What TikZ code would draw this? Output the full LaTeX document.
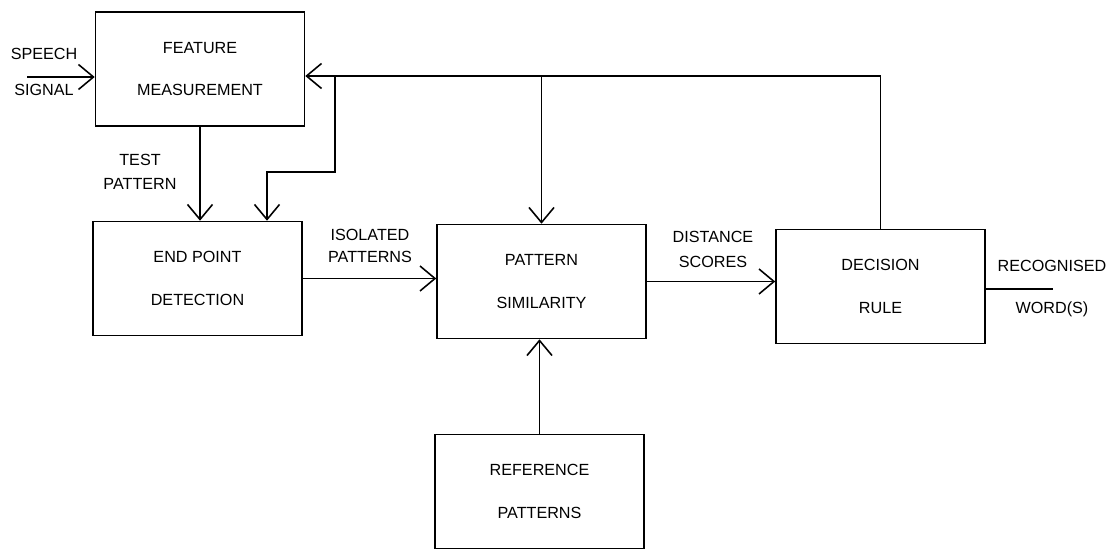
\documentclass[tikz,border=0pt]{standalone}
\usepackage{fontspec}
\setmainfont{Liberation Sans}
\usetikzlibrary{arrows.meta, positioning}
\tikzset{>={Straight Barb[length=3mm,width=5mm]}}

\begin{document}
\begin{tikzpicture}[x=0.02cm, y=-0.02cm, line width=0.9pt,
    every node/.style={font=\fontsize{9.2}{11}\selectfont, align=center},
    blok/.style={draw, minimum width=4.18cm, minimum height=2.28cm, font=\fontsize{9.2}{24}\selectfont},
    lbl/.style={inner sep=0pt}]
        \useasboundingbox (0,0) rectangle (1114,550);
        \node[blok] (fm) at (200,69) {FEATURE\\MEASUREMENT};
        \node[blok] (epd) at (197.5,278.5) {END POINT\\DETECTION};
        \node[blok] (ps) at (541.5,281.5) {PATTERN\\SIMILARITY};
        \node[blok] (dr) at (880.5,286.5) {DECISION\\RULE};
        \node[blok] (rp) at (539.5,491.5) {REFERENCE\\PATTERNS};

        \node[lbl] (speech) at (44,72) {SPEECH\\[9pt]SIGNAL};
        \node[lbl] (test) at (140,172) {TEST\\[3pt]PATTERN};
        \node[lbl] (iso) at (370,246) {ISOLATED\\[1.5pt]PATTERNS};
        \node[lbl] (dist) at (713,249.5) {DISTANCE\\[3pt]SCORES};
        \node[lbl] (recog) at (1052,288.5) {RECOGNISED\\[13pt]WORD(S)};

        \coordinate (sp) at (27,77);
        \coordinate (top) at (0,76);
        \coordinate (knee) at (335,172);
        \coordinate (drop) at (267,172);
        \coordinate (out) at (1053,289);

        \draw[->] (sp) -- (sp -| fm.west);
        \draw[->] (dr.north) -- (dr.north |- top) -- (fm.east |- top);
        \draw[->] (ps.north |- top) -- (ps.north);
        \draw[->] (knee |- top) -- (knee) -- (drop) -- (drop |- epd.north);
        \draw[->] (fm.south) -- (fm.south |- epd.north);
        \draw[->] (epd.east) -- (epd.east -| ps.west);
        \draw[->] (ps.east) -- (ps.east -| dr.west);
        \draw (dr.east |- out) -- (out);
        \draw[->] (rp.north) -- (rp.north |- ps.south);
      \end{tikzpicture}
\end{document}
